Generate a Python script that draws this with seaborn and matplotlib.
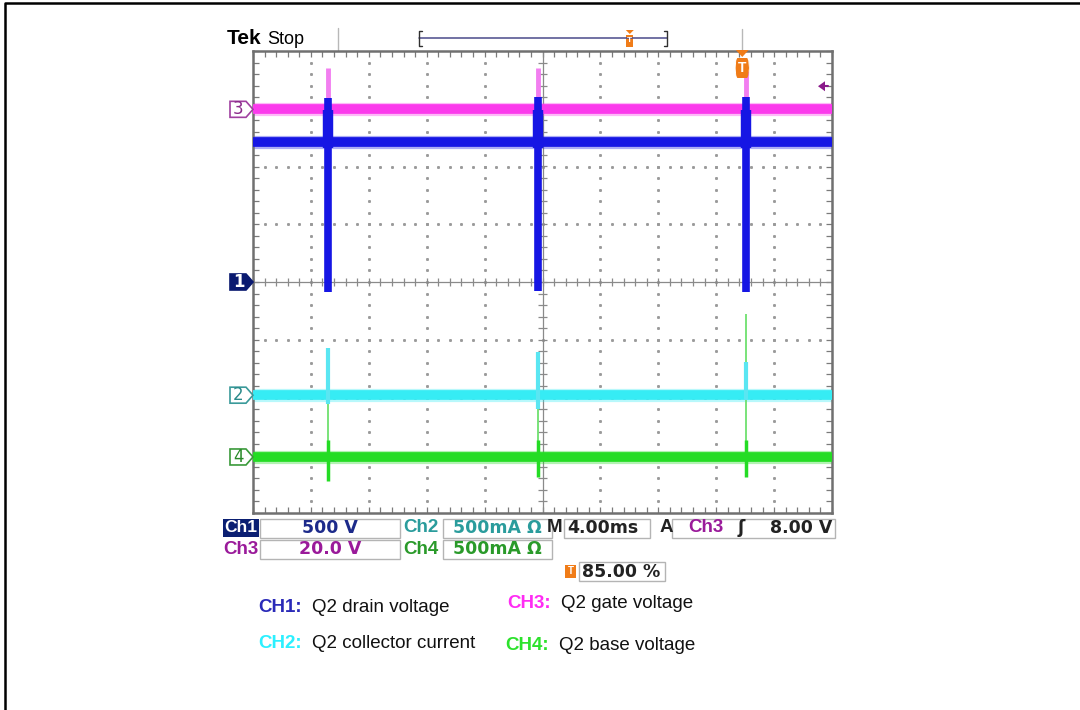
import numpy as np
import pandas as pd
import matplotlib
matplotlib.use("Agg")
import matplotlib.pyplot as plt
import matplotlib.patches as mpatches
import seaborn as sns

sns.set_theme(style="white")
plt.rcParams['font.family'] = ['Liberation Sans', 'DejaVu Sans']

# scope screen in divisions: 10 across, 8 high, 0 at centre
channels = ['CH3', 'CH1', 'CH4', 'CH2']
levels = [2.99, 2.42, -3.03, -1.96]
ground_marks = [2.99, 0.0, -3.03, -1.96]
spike_t = [1.30, 4.92, 8.51]
ch1_hi = [3.19, 3.20, 3.20]
ch1_lo = [-0.17, -0.16, -0.17]
ch3_hi = [3.70, 3.70, 3.66]
ch2_hi = [-1.14, -1.22, -1.38]
ch2_lo = [-2.12, -2.20, -2.05]
ch4_hi = [-1.14, -2.20, -0.55]
ch4_lo = [-3.45, -3.38, -3.38]
trig_x = 8.45        # div
trig_pct = 85.00     # %
trig_level = 8.00    # V
ch3_scale = 20.0     # V/div

colors = {'CH1': '#1616e4', 'CH2': '#36ecf4', 'CH3': '#fb3aec', 'CH4': '#24dc24'}

fig = plt.figure(figsize=(10.8, 7.1), dpi=100)
fig.patch.set_facecolor('white')

# overlay in pixel coords for the text around the screen
ov = fig.add_axes([0, 0, 1, 1])
ov.set_xlim(0, 1080)
ov.set_ylim(710, 0)
ov.axis('off')

ax = fig.add_axes([253 / 1080, (710 - 513) / 710, 579 / 1080, 462 / 710])
ax.set_facecolor('white')
ax.set_xlim(0, 10)
ax.set_ylim(-4, 4)

# graticule
dots_x, dots_y = [], []
fine = np.arange(0.2, 8.0, 0.2) - 4
for xk in [1, 2, 3, 4, 6, 7, 8, 9]:
    dots_x += [xk] * len(fine)
    dots_y += list(fine)
fine_h = np.arange(0.2, 10.0, 0.2)
for yk in [-3, -2, -1, 1, 2, 3]:
    dots_x += list(fine_h)
    dots_y += [yk] * len(fine_h)
ax.plot(dots_x, dots_y, ls='none', marker='s', ms=1.1, color='#9a9a9a', zorder=1)
ax.axvline(5, color='#8a8a8a', lw=0.9, zorder=1)
ax.axhline(0, color='#8a8a8a', lw=0.9, zorder=1)
ax.vlines(np.arange(0, 10.01, 0.2), -0.07, 0.07, color='#8a8a8a', lw=0.9, zorder=1)
ax.hlines(np.arange(-4, 4.01, 0.2), 4.93, 5.07, color='#8a8a8a', lw=0.9, zorder=1)
ax.set_xticks(range(11))
ax.set_yticks(range(-4, 5))
ax.set_xticks(np.arange(0, 10.01, 0.2), minor=True)
ax.set_yticks(np.arange(-4, 4.01, 0.2), minor=True)
ax.tick_params(which='both', direction='in', length=4, width=0.9, color='#7a7a7a',
               top=True, right=True, bottom=True, left=True,
               labelbottom=False, labelleft=False)
for s in ax.spines.values():
    s.set_color('#707070')
    s.set_linewidth(1.8)

# trace bands (soft noisy edge + solid core)
df = pd.DataFrame({'t': [0, 10] * 4,
                   'v': [l for l in levels for _ in range(2)],
                   'ch': [c for c in channels for _ in range(2)]})
sns.lineplot(data=df, x='t', y='v', hue='ch', hue_order=channels, palette=colors,
             lw=9.5, alpha=0.35, legend=False, estimator=None, ax=ax, zorder=2)
sns.lineplot(data=df, x='t', y='v', hue='ch', hue_order=channels, palette=colors,
             lw=7, legend=False, estimator=None, ax=ax, zorder=3)
ax.set_xlabel('')
ax.set_ylabel('')

# spikes
ax.vlines(spike_t, levels[0], ch3_hi, color='#f27ef0', lw=3.5, zorder=4)
ax.vlines(spike_t, ch1_lo, ch1_hi, color=colors['CH1'], lw=5.5, zorder=5)
ax.vlines(spike_t, levels[1] - 0.1, levels[1] + 0.55, color=colors['CH1'], lw=7.5, zorder=5)
ax.vlines(spike_t, ch4_lo, ch4_hi, color='#6ee06e', lw=1.3, zorder=4)
ax.vlines(spike_t, ch4_lo, levels[2] + 0.3, color=colors['CH4'], lw=2.5, zorder=4)
ax.vlines(spike_t, ch2_lo, ch2_hi, color='#5ae6f2', lw=3, zorder=5)

# channel markers on the left edge
ytr = ax.get_yaxis_transform()
pw = 1 / 579
ph = 1 / 57.75
marks = [('3', ground_marks[0], 'white', '#a040a0', '#8a2a8a'),
         ('1', ground_marks[1], '#0a1a70', '#0a1a70', 'white'),
         ('4', ground_marks[2], 'white', '#3a9a3a', '#2a8a2a'),
         ('2', ground_marks[3], 'white', '#3a9a9a', '#2a8a8a')]
for lab, y, fc, ec, tc in marks:
    verts = [(-23 * pw, y + 8 * ph), (-7 * pw, y + 8 * ph), (0, y),
             (-7 * pw, y - 8 * ph), (-23 * pw, y - 8 * ph)]
    ax.add_patch(mpatches.Polygon(verts, closed=True, transform=ytr, fc=fc, ec=ec,
                                  lw=1.2, clip_on=False, zorder=6))
    ax.text(-14.5 * pw, y, lab, transform=ytr, ha='center', va='center', fontsize=12,
            family=['DejaVu Sans'], color=tc, fontweight='bold' if lab == '1' else 'normal',
            clip_on=False, zorder=7)

# trigger level arrow (ch3)
ty = levels[0] + trig_level / ch3_scale
ax.add_patch(mpatches.Polygon([(1 - 14 * pw, ty), (1 - 7 * pw, ty + 5 * ph), (1 - 7 * pw, ty - 5 * ph)],
                              closed=True, transform=ytr, fc='#8a1a8a', ec='none', clip_on=False, zorder=6))
ax.plot([1 - 8 * pw, 1 - 4 * pw], [ty, ty], transform=ytr, color='#8a1a8a', lw=1.5, clip_on=False)

# trigger position marker
xtr = ax.get_xaxis_transform()
fy = 1 / 462
ax.plot([trig_x, trig_x], [1.0, 1 + 22 * fy], transform=xtr, color='#b8b8b8', lw=1, clip_on=False)
ax.add_patch(mpatches.Polygon([(trig_x - 0.11, 1 + 1 * fy), (trig_x + 0.11, 1 + 1 * fy), (trig_x, 1 - 6 * fy)],
                              closed=True, transform=xtr, fc='#f07c18', ec='none', clip_on=False, zorder=7))
ax.add_patch(mpatches.FancyBboxPatch((trig_x - 0.12, 1 - 27 * fy), 0.24, 20 * fy,
                                     boxstyle='round,pad=0,rounding_size=0.04', transform=xtr,
                                     fc='#f07c18', ec='none', clip_on=False, zorder=7))
ax.text(trig_x, 1 - 17 * fy, 'T', transform=xtr, ha='center', va='center', color='white',
        fontsize=10, fontweight='bold', zorder=8)

# top bar
ov.text(227, 39, 'Tek', fontsize=15, fontweight='bold', color='black', va='center', ha='left')
ov.text(267, 39, 'Stop', fontsize=13, color='black', va='center', ha='left')
ov.plot([338, 338], [28, 50], color='#b8b8b8', lw=1)
bx0, bx1 = 419, 667
ov.plot([bx0, bx1], [38, 38], color='#4a4a8a', lw=1.1)
ov.plot([bx0 + 3, bx0, bx0, bx0 + 3], [31, 31, 46, 46], color='#303030', lw=1)
ov.plot([bx1 - 3, bx1, bx1, bx1 - 3], [31, 31, 46, 46], color='#303030', lw=1)
bm = bx0 + trig_pct / 100 * (bx1 - bx0)
ov.add_patch(mpatches.Polygon([(bm - 4, 30), (bm + 4, 30), (bm, 34)], closed=True, fc='#f07c18', ec='none'))
ov.add_patch(mpatches.Rectangle((bm - 3.5, 35), 7, 12, fc='#f07c18', ec='none'))
ov.text(bm, 41, 'T', fontsize=6, color='white', ha='center', va='center', fontweight='bold')

# outer frame
ov.plot([5, 5, 1080], [710, 3, 3], color='black', lw=1.8)

# readouts
vfont = ['DejaVu Sans']
lfont = ['Liberation Sans', 'DejaVu Sans']
rs = 12.5
ls = 13.5


def rbox(x, y, w, h=19):
    ov.add_patch(mpatches.Rectangle((x, y), w, h, fc='white', ec='#b4b4b4', lw=1))


def rtext(x, y, s, c, ha='left', fam=vfont, size=rs):
    ov.text(x, y, s, family=fam, fontsize=size, color=c, fontweight='bold', ha=ha, va='center')


ov.add_patch(mpatches.Rectangle((223, 519), 36, 18, fc='#0b1f72', ec='none'))
rtext(241, 528, 'Ch1', 'white', 'center', lfont, 12.5)
rbox(260, 519, 140)
rtext(330, 528, '500 V', '#1c2a8a', 'center')
rtext(403, 528, 'Ch2', '#2a9c9c', 'left', lfont, ls)
rbox(443, 519, 109)
rtext(497, 528, '500mA Ω', '#2a9c9c', 'center')
rtext(562, 528, 'M', '#222222', 'right', lfont, ls)
rbox(564, 519, 86)
rtext(567, 528, '4.00ms', '#222222')
rtext(660, 528, 'A', '#222222', 'left', lfont, ls)
rbox(672, 519, 163)
rtext(688, 528, 'Ch3', '#9a1a9a', 'left', lfont, ls)
rtext(741, 528, 'ʃ', '#222222', 'center')
rtext(832, 528, f'{trig_level:.2f} V', '#222222', 'right')

rtext(241, 549, 'Ch3', '#9a1a9a', 'center', lfont, ls)
rbox(260, 540, 140)
rtext(330, 549, f'{ch3_scale:.1f} V', '#9a1a9a', 'center')
rtext(403, 549, 'Ch4', '#2a9a2a', 'left', lfont, ls)
rbox(443, 540, 109)
rtext(497, 549, '500mA Ω', '#2a9a2a', 'center')

ov.add_patch(mpatches.Rectangle((565, 565), 11, 13, fc='#f07c18', ec='none'))
ov.text(570.5, 571.5, 'T', fontsize=7, color='white', fontweight='bold', ha='center', va='center')
rbox(579, 562, 86)
rtext(582, 572, f'{trig_pct:.2f} %', '#222222')

# channel legend
legend_rows = [('CH1:', 'Q2 drain voltage', '#2a2ab8', 258, 607),
               ('CH3:', 'Q2 gate voltage', '#ff2cf4', 507, 603),
               ('CH2:', 'Q2 collector current', '#2cf0ff', 258, 644),
               ('CH4:', 'Q2 base voltage', '#2ce22c', 505, 646)]
for tag, desc, c, x, y in legend_rows:
    ov.text(x, y, tag, fontsize=13.5, color=c, fontweight='bold', ha='left', va='center')
    ov.text(x + 54, y, desc, fontsize=13.5, color='#111111', ha='left', va='center')

fig.savefig('out.png', dpi=100, facecolor='white')
